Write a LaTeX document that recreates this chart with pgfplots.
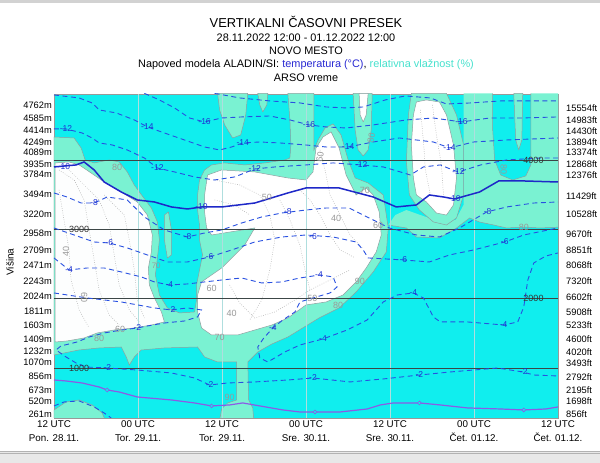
\documentclass[border=0pt]{standalone}
\usepackage{pgfplots}
\pgfplotsset{compat=1.18}
\usepackage{fontspec}
\setmainfont{Liberation Sans}
\definecolor{cy}{RGB}{16,238,238}
\definecolor{aq}{RGB}{122,242,210}
\definecolor{wh}{RGB}{255,255,255}
\definecolor{wh2}{RGB}{253,254,254}
\definecolor{rhgray}{RGB}{140,160,160}
\definecolor{tline}{RGB}{40,80,225}
\definecolor{tthick}{RGB}{30,40,200}
\definecolor{zline}{RGB}{140,90,230}
\definecolor{lvl}{RGB}{60,70,70}
\definecolor{tlab}{RGB}{30,50,210}
\definecolor{tempblue}{RGB}{40,40,210}
\definecolor{rhcol}{RGB}{70,225,205}
\definecolor{vgrid}{RGB}{175,222,222}
\tikzset{
  tl/.style={tline, line width=0.9pt, dash pattern=on 5pt off 3.5pt},
  dt/.style={gray!65, line width=0.5pt, dash pattern=on 0.7pt off 1.6pt},
  lab/.style={font=\fontsize{8.5}{9}\selectfont, text=tlab, inner sep=0.5pt},
  rh/.style={font=\fontsize{9}{9}\selectfont, text=gray!80, inner sep=0.5pt},
  aqf/.style={fill=aq, draw=rhgray, line width=0.5pt},
  whf/.style={fill=wh, draw=rhgray, line width=0.5pt},
}
\begin{document}
\begin{tikzpicture}
\path[use as bounding box] (-54pt,-45pt) rectangle (546pt,418pt);
\fill[gray!35] (-54pt,415pt) rectangle (546pt,418pt);
\fill[gray!18] (-54pt,-45pt) rectangle (546pt,-33pt);
\draw[gray!60] (-54pt,-33pt) -- (546pt,-33pt);
\draw[gray!60] (-54pt,-35.5pt) -- (546pt,-35.5pt);
\begin{axis}[
  at={(0pt,0pt)}, anchor=south west,
  scale only axis, width=504pt, height=324pt,
  xmin=0, xmax=72, ymin=279, ymax=4951,
  axis background/.style={fill=cy},
  axis line style={draw=gray!80, line width=0.6pt},
  major tick length=0pt,
  xtick={0,12,24,36,48,60,72},
  xticklabels={{12 UTC\\Pon. 28.11.},{00 UTC\\Tor. 29.11.},{12 UTC\\Tor. 29.11.},{00 UTC\\Sre. 30.11.},{12 UTC\\Sre. 30.11.},{00 UTC\\Čet. 01.12.},{12 UTC\\Čet. 01.12.}},
  xticklabel style={align=center, font=\fontsize{9.8}{13.5}\selectfont, inner sep=0pt, yshift=-2.5pt},
  ytick={4793,4601,4433,4255,4111,3938,3794,3505,3217,2943,2702,2486,2245,2029,1812,1620,1414,1245,1077,875,673,525,337},
  yticklabels={4762m,4585m,4414m,4249m,4089m,3935m,3784m,3494m,3220m,2958m,2709m,2471m,2243m,2024m,1811m,1603m,1409m,1232m,1070m,856m,673m,520m,261m},
  yticklabel style={font=\fontsize{9.3}{10}\selectfont, inner sep=0pt, xshift=-2pt},
]
% aquamarine region around the left and central dry areas
\addplot[aqf] coordinates {(17.93,1794) (20.08,1808) (20.36,1981) (20.36,2197) (20.79,2414) (21.22,2630) (20.79,2846) (20.79,3062) (20.51,3278) (20.51,3495) (20.79,3711) (21.51,3856) (22.51,3928) (24.38,3957) (27.25,3928) (30.12,3957) (32.98,4000) (33.70,4028) (33.84,4216) (33.70,4577) (33.41,4960) (37.14,4960) (37.14,4144) (37.72,4288) (38.72,4461) (39.87,4519) (41.01,4360) (42.02,4000) (43.02,3740) (44.88,3668) (47.04,3495) (47.75,3019) (47.47,2673) (45.60,2385) (43.16,2096) (40.73,1866) (37.86,1721) (35.99,1606) (33.41,1447) (31.12,1346) (29.11,1231) (27.68,1087) (27.82,539) (28.39,424) (28.54,250) (23.66,250) (23.95,409) (24.81,496) (26.10,539) (26.10,1087) (23.37,1087) (21.51,1159) (20.51,1303) (15.77,1289) (12.48,1260) (11.47,1159) (10.76,1043) (10.33,1159) (9.61,1303) (6.45,1289) (3.59,1260) (0,1188) (0,4331) (2.87,4317) (3.87,4173) (4.45,4000) (5.74,3957) (7.89,4000) (9.32,3971) (10.47,3827) (11.47,3639) (12.62,3480) (13.91,3307) (14.77,3106) (15.06,2846) (14.77,2587) (14.48,2342) (15.06,2053) (16.20,1866) (17.93,1794)};
\addplot[aqf] coordinates {(25.52,4317) (26.67,4360) (27.39,4649) (27.68,4960) (23.37,4960) (23.66,4721) (24.38,4505) (25.52,4317)};
\addplot[aqf] coordinates {(29.83,4692) (30.40,4793) (30.55,4960) (29.11,4960) (29.40,4793) (29.83,4692)};
\addplot[aqf] coordinates {(3.59,539) (5.45,467) (6.88,351) (7.31,250) (0,250) (0,395) (1.72,510) (3.59,539)};
\addplot[aqf] coordinates {(15.77,3206) (16.35,3250) (16.78,2990) (16.78,2630) (16.20,2587) (15.77,2846) (15.77,3206)};
% aquamarine regions on the right
\addplot[fill=aq, draw=none] coordinates {(58.51,4960) (62.67,4960) (62.67,4433) (62.95,4000) (63.81,3783) (65.53,3711) (67.40,3769) (68.12,3928) (68.12,4960) (72.5,4960) (72.5,3033) (69.41,3019) (67.11,3033) (64.67,3019) (62.81,3062) (60.80,3105) (59.37,3163) (57.50,3019) (55.06,2875) (51.77,2889) (50.34,3019) (47.75,3062) (48.76,3206) (50.34,3278) (52.34,3206) (55.20,3106) (57.36,3134) (58.51,3351) (58.51,4960)};
\addplot[rhgray, line width=0.5pt] coordinates {(62.67,4960) (62.67,4433) (62.95,4000) (63.81,3783) (65.53,3711) (67.40,3769) (68.12,3928) (68.12,4960)};
\addplot[rhgray, line width=0.5pt] coordinates {(72.5,3033) (69.41,3019) (67.11,3033) (64.67,3019) (62.81,3062) (60.80,3105) (59.37,3163) (57.50,3019) (55.06,2875) (51.77,2889) (50.34,3019) (47.75,3062)};
\addplot[aqf] coordinates {(66.39,4144) (66.83,4288) (66.97,4960) (65.68,4960) (65.96,4288) (66.39,4144)};
\addplot[aqf] coordinates {(44.17,4057) (44.88,4144) (45.32,4433) (45.46,4960) (42.73,4960) (43.02,4433) (43.45,4144) (44.17,4057)};
\addplot[aqf] coordinates {(54.20,3106) (52.20,3278) (50.77,3495) (50.34,3971) (50.63,4649) (51.05,4960) (56.07,4960) (57.50,4649) (58.51,4216) (58.51,3495) (57.50,3163) (56.07,3062) (54.20,3106)};
% white (dry) regions
\addplot[whf] coordinates {(21.94,3783) (23.95,3856) (28.68,3827) (33.41,3740) (35.99,3711) (37.00,3827) (37.43,4173) (38.43,4331) (39.58,4404) (40.73,4173) (41.73,3783) (43.16,3495) (44.60,3596) (45.60,3495) (46.46,3250) (46.75,2918) (46.03,2673) (44.60,2442) (43.16,2241) (41.30,2053) (38.86,1952) (35.99,1909) (33.41,1721) (31.12,1620) (28.68,1548) (26.24,1476) (22.51,1476) (21.08,1577) (20.51,1808) (20.51,2053) (21.08,2241) (23.95,2442) (27.25,2774) (28.68,3019) (22.51,2918) (21.80,3019) (21.51,3250) (21.51,3495) (21.94,3783)};
\addplot[whf] coordinates {(51.77,4836) (53.20,4865) (55.06,4836) (56.07,4649) (57.07,4216) (57.50,3740) (57.07,3351) (56.07,3206) (54.63,3235) (53.20,3394) (51.77,3495) (51.34,3740) (51.05,4216) (51.34,4649) (51.77,4836)};
\addplot[whf] coordinates {(44.17,4548) (44.60,4649) (44.88,4960) (43.59,4960) (43.74,4649) (44.17,4548)};
\addplot[fill=wh2, draw=rhgray, line width=0.5pt] coordinates {(7.17,3682) (9.61,3538) (11.90,3394) (13.34,3206) (14.05,2918) (13.91,2673) (13.48,2442) (13.62,2197) (14.34,2010) (15.35,1808) (15.77,1664) (13.91,1620) (11.47,1577) (8.60,1548) (6.17,1505) (4.30,1433) (1.86,1390) (0.15,1375) (0.15,3957) (2.15,3971) (3.59,3928) (5.31,3812) (7.17,3682)};
% dotted humidity contours
\addplot[dt] coordinates {(0.72,3856) (2.87,3711) (4.30,3423) (5.02,2990) (5.74,2558) (6.45,2125) (7.89,1765) (9.32,1620)};
\addplot[dt] coordinates {(2.15,3856) (4.30,3639) (6.45,3423) (7.89,3062) (8.60,2630) (9.32,2197) (10.76,1837) (12.19,1664)};
\addplot[dt] coordinates {(7.17,3495) (8.60,3351) (10.04,3206) (10.76,2846) (11.47,2414) (11.90,1981) (12.91,1721)};
\addplot[dt] coordinates {(0.72,3567) (1.43,3134) (2.15,2702) (2.44,2269) (3.59,1837) (5.02,1577)};
\addplot[dt] coordinates {(22.94,3711) (26.53,3639) (29.40,3495) (30.83,3206) (31.55,2846) (30.83,2414) (29.68,1981) (27.96,1693)};
\addplot[dt] coordinates {(25.09,2197) (26.53,1938) (28.68,1721) (31.55,1808) (34.42,1981) (36.57,2125) (39.44,2269) (42.30,2414)};
\addplot[dt] coordinates {(35.13,3567) (36.57,3423) (38.00,3206) (39.44,2918) (40.87,2702) (43.02,2587)};
\addplot[dt] coordinates {(38.00,4144) (38.72,3856) (39.44,3495) (40.87,3206) (42.30,2918) (44.02,2731)};
\addplot[dt] coordinates {(32.27,3423) (33.70,3134) (35.13,2774) (35.85,2414) (36.57,2125)};
\addplot[dt] coordinates {(22.94,3423) (25.81,3351) (27.96,3206)};
\addplot[dt] coordinates {(52.34,4721) (52.77,4288) (53.06,3856) (53.77,3495)};
\addplot[dt] coordinates {(54.06,4793) (54.63,4360) (55.35,3928) (55.64,3495)};
% vertical grid
\addplot[vgrid, line width=0.4pt] coordinates {(12,279) (12,4951)};
\addplot[vgrid, line width=0.4pt] coordinates {(24,279) (24,4951)};
\addplot[vgrid, line width=0.4pt] coordinates {(36,279) (36,4951)};
\addplot[vgrid, line width=0.4pt] coordinates {(48,279) (48,4951)};
\addplot[vgrid, line width=0.4pt] coordinates {(60,279) (60,4951)};
% height levels
\addplot[lvl, line width=0.6pt] coordinates {(0,1000) (72,1000)};
\addplot[lvl, line width=0.6pt] coordinates {(0,2000) (72,2000)};
\addplot[lvl, line width=0.6pt] coordinates {(0,3000) (72,3000)};
\addplot[lvl, line width=0.6pt] coordinates {(0,4000) (72,4000)};
% temperature isolines
\addplot[tl] coordinates {(22.94,4960) (26.53,4894) (30.83,4851) (35.13,4822) (38.86,4764) (41.73,4750) (44.17,4764) (47.32,4865) (50.19,4923) (53.77,4894) (56.07,4807) (59.51,4822) (63.81,4851) (68.12,4851) (72,4851)};
\addplot[tl] coordinates {(12.91,4960) (15.06,4865) (17.21,4750) (19.36,4605) (21.51,4548) (23.95,4605) (26.81,4620) (30.83,4634) (33.70,4577) (36.42,4505) (38.86,4476) (41.73,4461) (45.60,4505) (50.34,4577) (54.20,4605) (58.22,4548) (62.24,4605) (66.68,4605) (72,4620)};
\addplot[tl] coordinates {(0,4937) (3.59,4894) (5.45,4822) (6.45,4721) (8.89,4678) (11.47,4577) (13.34,4476) (15.77,4389) (18.64,4288) (21.51,4187) (23.66,4144) (25.38,4187) (26.96,4245) (29.40,4259) (32.27,4245) (35.99,4216) (38.86,4187) (42.02,4187) (45.60,4259) (49.33,4317) (54.20,4259) (56.50,4173) (59.94,4259) (64.67,4288) (72,4317)};
\addplot[tl] coordinates {(0,4447) (1.72,4447) (4.02,4389) (5.45,4317) (6.45,4245) (8.32,4216) (10.47,4144) (12.91,4028) (14.77,3884) (17.21,3827) (20.08,3755) (22.94,3711) (25.81,3755) (28.68,3870) (31.55,3899) (35.99,3928) (39.87,3957) (43.88,3928) (47.04,3899) (49.48,3827) (50.91,3783) (52.77,3899) (55.20,3928) (56.93,3856) (57.79,3827) (60.95,3928) (64.67,4000) (69.55,4028) (72,4028)};
\addplot[tthick, line width=1.5pt] coordinates {(0,3899) (3.16,3928) (4.30,3971) (5.74,3856) (7.17,3682) (9.61,3538) (11.90,3423) (14.34,3394) (16.78,3322) (19.07,3293) (21.08,3322) (23.95,3322) (28.68,3379) (33.41,3524) (35.99,3596) (40.73,3596) (45.60,3466) (48.90,3322) (51.77,3351) (53.63,3495) (55.64,3466) (57.22,3437) (60.80,3538) (63.53,3697) (67.11,3697) (72,3682)};
\addplot[tl] coordinates {(0,3524) (1.86,3466) (3.87,3379) (5.74,3379) (7.60,3466) (10.47,3423) (12.91,3178) (15.77,2990) (19.07,2889) (21.51,2947) (23.95,2990) (26.81,3091) (29.68,3178) (32.55,3235) (35.99,3278) (38.86,3307) (42.16,3307) (45.03,3163) (47.90,3019) (51.77,2918) (55.06,2889) (57.93,3019) (61.81,3250) (64.67,3322) (68.54,3379) (72,3394)};
\addplot[tl] coordinates {(0,3019) (2.87,2918) (5.74,2817) (7.89,2803) (10.47,2731) (13.34,2630) (16.20,2529) (19.07,2529) (22.23,2601) (25.38,2702) (28.68,2817) (32.55,2889) (35.99,2918) (39.87,2889) (43.16,2817) (44.17,2702) (44.88,2587) (49.91,2558) (53.63,2529) (56.50,2630) (59.94,2702) (64.39,2817) (67.11,2918) (72,3019)};
\addplot[tl] coordinates {(0,2587) (2.15,2414) (4.73,2442) (7.17,2442) (9.61,2385) (12.48,2313) (14.34,2241) (16.49,2197) (19.07,2212) (21.51,2241) (23.95,2269) (26.81,2298) (29.68,2226) (32.55,2241) (35.13,2298) (38.00,2342) (39.87,2313) (40.44,2169) (39.44,2082) (37.00,2010) (35.13,1952) (34.42,1808) (32.70,1693) (31.26,1577) (29.97,1433) (29.11,1303) (29.40,1144) (30.55,1087) (32.98,1231) (35.13,1332) (38.43,1419) (41.87,1548) (44.74,1693) (47.04,1952) (49.05,2053) (51.34,2082) (52.77,2010) (54.20,1736) (55.20,1664) (59.08,1664) (64.24,1620) (66.25,1664) (67.11,1880) (67.69,2269) (68.54,2515) (70.27,2615) (72,2659)};
\addplot[tl] coordinates {(0,2082) (4.73,2010) (9.61,1952) (14.34,1866) (16.78,1837) (19.07,1866) (21.08,1837) (20.51,1736) (18.64,1678) (15.77,1649) (13.34,1606) (11.90,1577) (9.61,1548) (7.17,1505) (5.02,1447) (3.30,1375) (1.00,1318) (0.29,1260) (1.72,1159) (3.16,1072) (4.59,1014) (7.60,1000) (11.90,971) (16.78,928) (20.08,856) (22.23,755) (24.81,784) (28.68,799) (33.41,827) (37.00,856) (42.30,799) (47.04,842) (52.20,899) (56.64,943) (63.38,1000) (66.97,943) (68.54,899) (72,885)};
\addplot[tl] coordinates {(0,453) (1.43,510) (3.59,525) (5.74,438) (7.17,351) (8.17,279)};
% zero isotherm
\addplot[zline, line width=1.2pt] coordinates {(0,827) (1.72,813) (4.02,784) (6.45,726) (7.60,683) (9.32,654) (11.90,582) (16.78,539) (20.08,496) (22.51,453) (25.09,467) (26.96,496) (29.40,453) (32.70,395) (35.13,366) (37.28,366) (40.87,366) (44.74,409) (46.61,467) (48.47,496) (52.20,496) (55.20,467) (59.08,424) (63.81,409) (67.11,395) (70.27,409) (72,438)};
\addplot[only marks, mark=*, mark size=1.9pt, mark options={fill=cy, draw=zline, line width=0.6pt}] coordinates {(7.60,683) (22.51,453) (37.28,366) (52.20,496) (67.11,395)};
% level labels
\node[font=\fontsize{9}{9}\selectfont, text=black!80, inner sep=0pt] at (axis cs:3.6,3000) {3000};
\node[font=\fontsize{9}{9}\selectfont, text=black!80, inner sep=0pt] at (axis cs:3.6,1000) {1000};
\node[font=\fontsize{9}{9}\selectfont, text=black!80, inner sep=0pt] at (axis cs:68.5,2000) {2000};
\node[font=\fontsize{9}{9}\selectfont, text=black!80, inner sep=0pt] at (axis cs:68.5,4000) {4000};
% temperature labels
\node[lab] at (axis cs:1.72,4447) {-12};
\node[lab] at (axis cs:13.34,4476) {-14};
\node[lab] at (axis cs:21.51,4548) {-16};
\node[lab] at (axis cs:26.96,4245) {-14};
\node[lab] at (axis cs:14.77,3884) {-12};
\node[lab] at (axis cs:28.68,3870) {-12};
\node[lab] at (axis cs:36.42,4505) {-16};
\node[lab] at (axis cs:42.02,4187) {-14};
\node[lab] at (axis cs:43.88,3928) {-12};
\node[lab] at (axis cs:58.22,4548) {-16};
\node[lab] at (axis cs:56.50,4173) {-14};
\node[lab] at (axis cs:57.79,3827) {-12};
\node[lab] at (axis cs:1.43,3899) {-10};
\node[lab] at (axis cs:21.08,3322) {-10};
\node[lab] at (axis cs:57.22,3437) {-10};
\node[lab] at (axis cs:5.74,3379) {-8};
\node[lab] at (axis cs:19.07,2889) {-8};
\node[lab] at (axis cs:33.41,3250) {-8};
\node[lab] at (axis cs:61.95,3250) {-8};
\node[lab] at (axis cs:7.89,2803) {-6};
\node[lab] at (axis cs:22.23,2601) {-6};
\node[lab] at (axis cs:37.00,2889) {-6};
\node[lab] at (axis cs:49.91,2558) {-6};
\node[lab] at (axis cs:64.39,2817) {-6};
\node[lab] at (axis cs:2.15,2414) {-4};
\node[lab] at (axis cs:16.49,2197) {-4};
\node[lab] at (axis cs:37.86,2342) {-4};
\node[lab] at (axis cs:31.26,1577) {-4};
\node[lab] at (axis cs:38.43,1419) {-4};
\node[lab] at (axis cs:51.34,2082) {-4};
\node[lab] at (axis cs:64.24,1620) {-4};
\node[lab] at (axis cs:16.78,1837) {-2};
\node[lab] at (axis cs:11.90,1577) {-2};
\node[lab] at (axis cs:7.60,1000) {-2};
\node[lab] at (axis cs:22.23,755) {-2};
\node[lab] at (axis cs:37.00,856) {-2};
\node[lab] at (axis cs:52.20,899) {-2};
\node[lab] at (axis cs:67.11,943) {-2};
% humidity labels
\node[rh] at (axis cs:9.03,3899) {80};
\node[rh, rotate=90] at (axis cs:1.72,2673) {40};
\node[rh, rotate=-90] at (axis cs:4.30,2010) {60};
\node[rh] at (axis cs:9.46,1563) {60};
\node[rh] at (axis cs:6.45,1433) {80};
\node[rh, font=\fontsize{8}{8}\selectfont] at (axis cs:14.6,2470) {70};
\node[rh] at (axis cs:22.51,2154) {60};
\node[rh] at (axis cs:25.38,1794) {40};
\node[rh] at (axis cs:23.66,1447) {70};
\node[rh] at (axis cs:25.09,582) {90};
\node[rh] at (axis cs:30.40,3466) {50};
\node[rh] at (axis cs:40.30,3150) {40};
\node[rh] at (axis cs:44.40,3560) {70};
\node[rh] at (axis cs:46.30,3050) {60};
\node[rh] at (axis cs:43.70,2250) {90};
\node[rh] at (axis cs:36.90,2000) {50};
\node[rh] at (axis cs:40.60,1900) {80};
\node[rh, rotate=80] at (axis cs:45.32,4317) {80};
\node[rh, rotate=80] at (axis cs:38.00,4040) {60};
\node[rh, rotate=-90] at (axis cs:64.24,3856) {80};
\node[rh] at (axis cs:67.11,3033) {80};
\end{axis}
% right height axis in feet
\begin{axis}[
  at={(0pt,0pt)}, anchor=south west,
  scale only axis, width=504pt, height=324pt,
  xmin=0, xmax=72, ymin=279, ymax=4951,
  axis y line*=right, axis x line=none,
  y axis line style={draw=none},
  major tick length=0pt,
  ytick={4745,4577,4418,4255,4111,3942,3783,3481,3221,2933,2702,2476,2245,2020,1812,1620,1414,1235,1068,861,683,515,337},
  yticklabels={15554ft,14983ft,14430ft,13894ft,13374ft,12868ft,12376ft,11429ft,10528ft,9670ft,8851ft,8068ft,7320ft,6602ft,5908ft,5233ft,4600ft,4020ft,3493ft,2792ft,2195ft,1698ft,856ft},
  yticklabel style={font=\fontsize{9.3}{10}\selectfont, inner sep=0pt, xshift=8pt},
]
\addplot[draw=none] coordinates {(0,1000) (72,1000)};
\end{axis}
\node[rotate=90, font=\fontsize{10}{10}\selectfont] at (-44pt,156pt) {Višina};
\node[anchor=base, font=\fontsize{12.9}{14}\selectfont] at (252pt,390pt) {VERTIKALNI ČASOVNI PRESEK};
\node[anchor=base, font=\fontsize{10.9}{12}\selectfont] at (252pt,376.5pt) {28.11.2022 12:00 - 01.12.2022 12:00};
\node[anchor=base, font=\fontsize{10.9}{12}\selectfont] at (252pt,363pt) {NOVO MESTO};
\node[anchor=base, font=\fontsize{10.9}{12}\selectfont] at (252pt,350.5pt) {Napoved modela ALADIN/SI: \textcolor{tempblue}{temperatura (°C)}, \textcolor{rhcol}{relativna vlažnost (\%)}};
\node[anchor=base, font=\fontsize{10.9}{12}\selectfont] at (252pt,336.5pt) {ARSO vreme};
\end{tikzpicture}
\end{document}
